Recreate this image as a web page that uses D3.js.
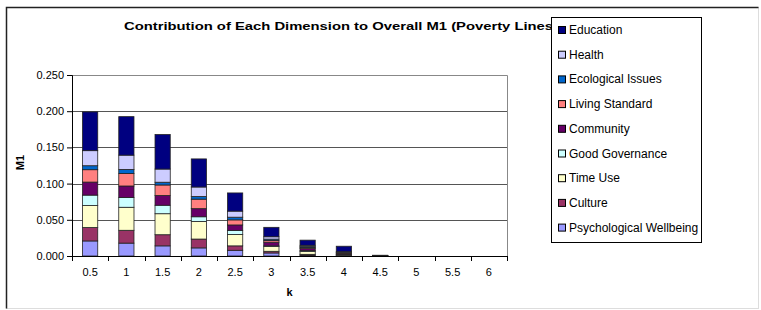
<!DOCTYPE html>
<html>
<head>
<meta charset="utf-8">
<script src="https://cdn.jsdelivr.net/npm/d3@7"></script>
<style>
  body { margin: 0; background: #fff; }
  svg { font-family: "Liberation Sans", Arial, sans-serif; }
</style>
</head>
<body>
<div class="chart"></div>
<script>
// k values (poverty line cutoffs)
var kLabels = ["0.5", "1", "1.5", "2", "2.5", "3", "3.5", "4", "4.5", "5", "5.5", "6"];

// series, bottom to top
var psych      = [0.0208, 0.0178, 0.0140, 0.0112, 0.0079, 0.0042, 0.0010, 0.0005, 0.00005, 0, 0, 0];
var culture    = [0.0185, 0.0177, 0.0154, 0.0122, 0.0061, 0.0023, 0.0013, 0.0005, 0.00005, 0, 0, 0];
var timeUse    = [0.0304, 0.0318, 0.0290, 0.0243, 0.0158, 0.0065, 0.0038, 0.0010, 0.0001, 0, 0, 0];
var goodGov    = [0.0144, 0.0135, 0.0117, 0.0065, 0.0056, 0.0010, 0.0013, 0.0005, 0.00005, 0, 0, 0];
var community  = [0.0180, 0.0159, 0.0135, 0.0112, 0.0075, 0.0051, 0.0028, 0.0012, 0.0001, 0, 0, 0];
var living     = [0.0171, 0.0173, 0.0145, 0.0131, 0.0070, 0.0023, 0.0014, 0.0008, 0.00005, 0, 0, 0];
var ecological = [0.0055, 0.0056, 0.0038, 0.0037, 0.0037, 0.0019, 0.0014, 0.0005, 0.00005, 0, 0, 0];
var health     = [0.0208, 0.0197, 0.0182, 0.0131, 0.0084, 0.0033, 0.0018, 0.0010, 0.0001, 0, 0, 0];
var education  = [0.0535, 0.0532, 0.0477, 0.0388, 0.0251, 0.0130, 0.0071, 0.0075, 0.0005, 0, 0, 0];

var seriesNames = ["Psychological Wellbeing", "Culture", "Time Use", "Good Governance",
  "Community", "Living Standard", "Ecological Issues", "Health", "Education"];
var seriesValues = [psych, culture, timeUse, goodGov, community, living, ecological, health, education];
var seriesColors = ["#9999FF", "#993366", "#FFFFCC", "#CCFFFF", "#660066",
  "#FF8080", "#0066CC", "#CCCCFF", "#000080"];

var yTicks = [0, 0.05, 0.1, 0.15, 0.2, 0.25];

var svgWidth = 761, svgHeight = 310;
var margin = { top: 75, left: 72, right: 254, bottom: 54 };
var width = svgWidth - margin.left - margin.right;
var height = svgHeight - margin.top - margin.bottom;

var svg = d3.select(".chart").append("svg")
  .attr("width", svgWidth)
  .attr("height", svgHeight);

// outer frame
svg.append("rect")
  .attr("x", 6.5).attr("y", 7.5)
  .attr("width", 752).attr("height", 301)
  .attr("fill", "#fff")
  .attr("stroke", "#ddd");
svg.append("path")
  .attr("d", "M6.5,308.5V7.5H758.5")
  .attr("fill", "none")
  .attr("stroke", "#222")
  .attr("stroke-width", 1.5);

var chartGroup = svg.append("g")
  .attr("transform", `translate(${margin.left}, ${margin.top})`);

// rows for stacking
var table = kLabels.map(function(k, i) {
  var row = { k: k };
  seriesNames.forEach(function(name, j) { row[name] = seriesValues[j][i]; });
  return row;
});
var stacked = d3.stack().keys(seriesNames)(table);

var xScale = d3.scaleBand().domain(kLabels).range([0, width]).padding(0);
var yScale = d3.scaleLinear().domain([0, 0.25]).range([height, 0]);

// plot area border
chartGroup.append("path")
  .attr("d", `M0,0.5H${width + 0.5}V${height}`)
  .attr("fill", "none")
  .attr("stroke", "#888");

// gridlines
chartGroup.append("g")
  .selectAll("line")
  .data(yTicks.slice(1, -1))
  .enter()
  .append("line")
  .attr("x1", 0).attr("x2", width)
  .attr("y1", d => Math.round(yScale(d)) + 0.5)
  .attr("y2", d => Math.round(yScale(d)) + 0.5)
  .attr("stroke", "#555");

// bars
var barW = xScale.bandwidth() * 0.42;
chartGroup.selectAll(".layer")
  .data(stacked)
  .enter()
  .append("g")
  .attr("class", "layer")
  .attr("fill", (d, i) => seriesColors[i])
  .selectAll("rect")
  .data(d => d.filter(p => p[1] - p[0] > 0))
  .enter()
  .append("rect")
  .attr("x", d => xScale(d.data.k) + (xScale.bandwidth() - barW) / 2)
  .attr("y", d => yScale(d[1]))
  .attr("width", barW)
  .attr("height", d => yScale(d[0]) - yScale(d[1]))
  .attr("stroke", "#222")
  .attr("stroke-width", 0.8);

// axes
var yAxis = d3.axisLeft(yScale).tickValues(yTicks).tickFormat(d3.format(".3f")).tickSize(5);
chartGroup.append("g")
  .attr("class", "yaxis")
  .call(yAxis);

var xAxis = d3.axisBottom(xScale).tickSize(0).tickPadding(10);
var xg = chartGroup.append("g")
  .attr("transform", `translate(0, ${height})`)
  .call(xAxis);

// tick marks at category boundaries
xg.selectAll(".bound")
  .data(d3.range(kLabels.length + 1))
  .enter()
  .append("line")
  .attr("x1", i => Math.round(i * xScale.step()) + 0.5)
  .attr("x2", i => Math.round(i * xScale.step()) + 0.5)
  .attr("y1", 0).attr("y2", 5)
  .attr("stroke", "#000");

svg.selectAll(".domain").attr("stroke", "#000");
svg.selectAll(".tick line").attr("stroke", "#000");
svg.selectAll(".tick text").attr("font-size", 11).attr("fill", "#000")
  .attr("font-family", "Liberation Sans, Arial, sans-serif");
xg.selectAll(".tick text").attr("dy", "0.9em");

// axis titles
chartGroup.append("text")
  .attr("transform", "rotate(-90)")
  .attr("x", -height / 2 + 3)
  .attr("y", -48)
  .attr("text-anchor", "middle")
  .attr("font-size", 11)
  .attr("font-weight", "bold")
  .text("M1");

chartGroup.append("text")
  .attr("x", width / 2)
  .attr("y", height + 40)
  .attr("text-anchor", "middle")
  .attr("font-size", 11)
  .attr("font-weight", "bold")
  .text("k");

// title (runs under the legend, as in the original)
svg.append("text")
  .attr("x", 124)
  .attr("y", 30)
  .attr("font-size", 11.5)
  .attr("font-weight", "bold")
  .attr("textLength", 434)
  .attr("lengthAdjust", "spacingAndGlyphs")
  .text("Contribution of Each Dimension to Overall M1 (Poverty Lines)");

// legend
var legend = svg.append("g").attr("transform", "translate(551, 17)");
legend.append("rect")
  .attr("x", 0.5).attr("y", 0.5)
  .attr("width", 150).attr("height", 225)
  .attr("fill", "#fff")
  .attr("stroke", "#000");

var legendOrder = d3.range(seriesNames.length).reverse();
var items = legend.selectAll(".item")
  .data(legendOrder)
  .enter()
  .append("g")
  .attr("transform", (d, i) => `translate(0, ${13 + i * 24.7})`);
items.append("rect")
  .attr("x", 7.5).attr("y", -3.5)
  .attr("width", 7).attr("height", 7)
  .attr("fill", d => seriesColors[d])
  .attr("stroke", "#000");
items.append("text")
  .attr("x", 18)
  .attr("y", 4)
  .attr("font-size", 12)
  .text(d => seriesNames[d]);
</script>
</body>
</html>
